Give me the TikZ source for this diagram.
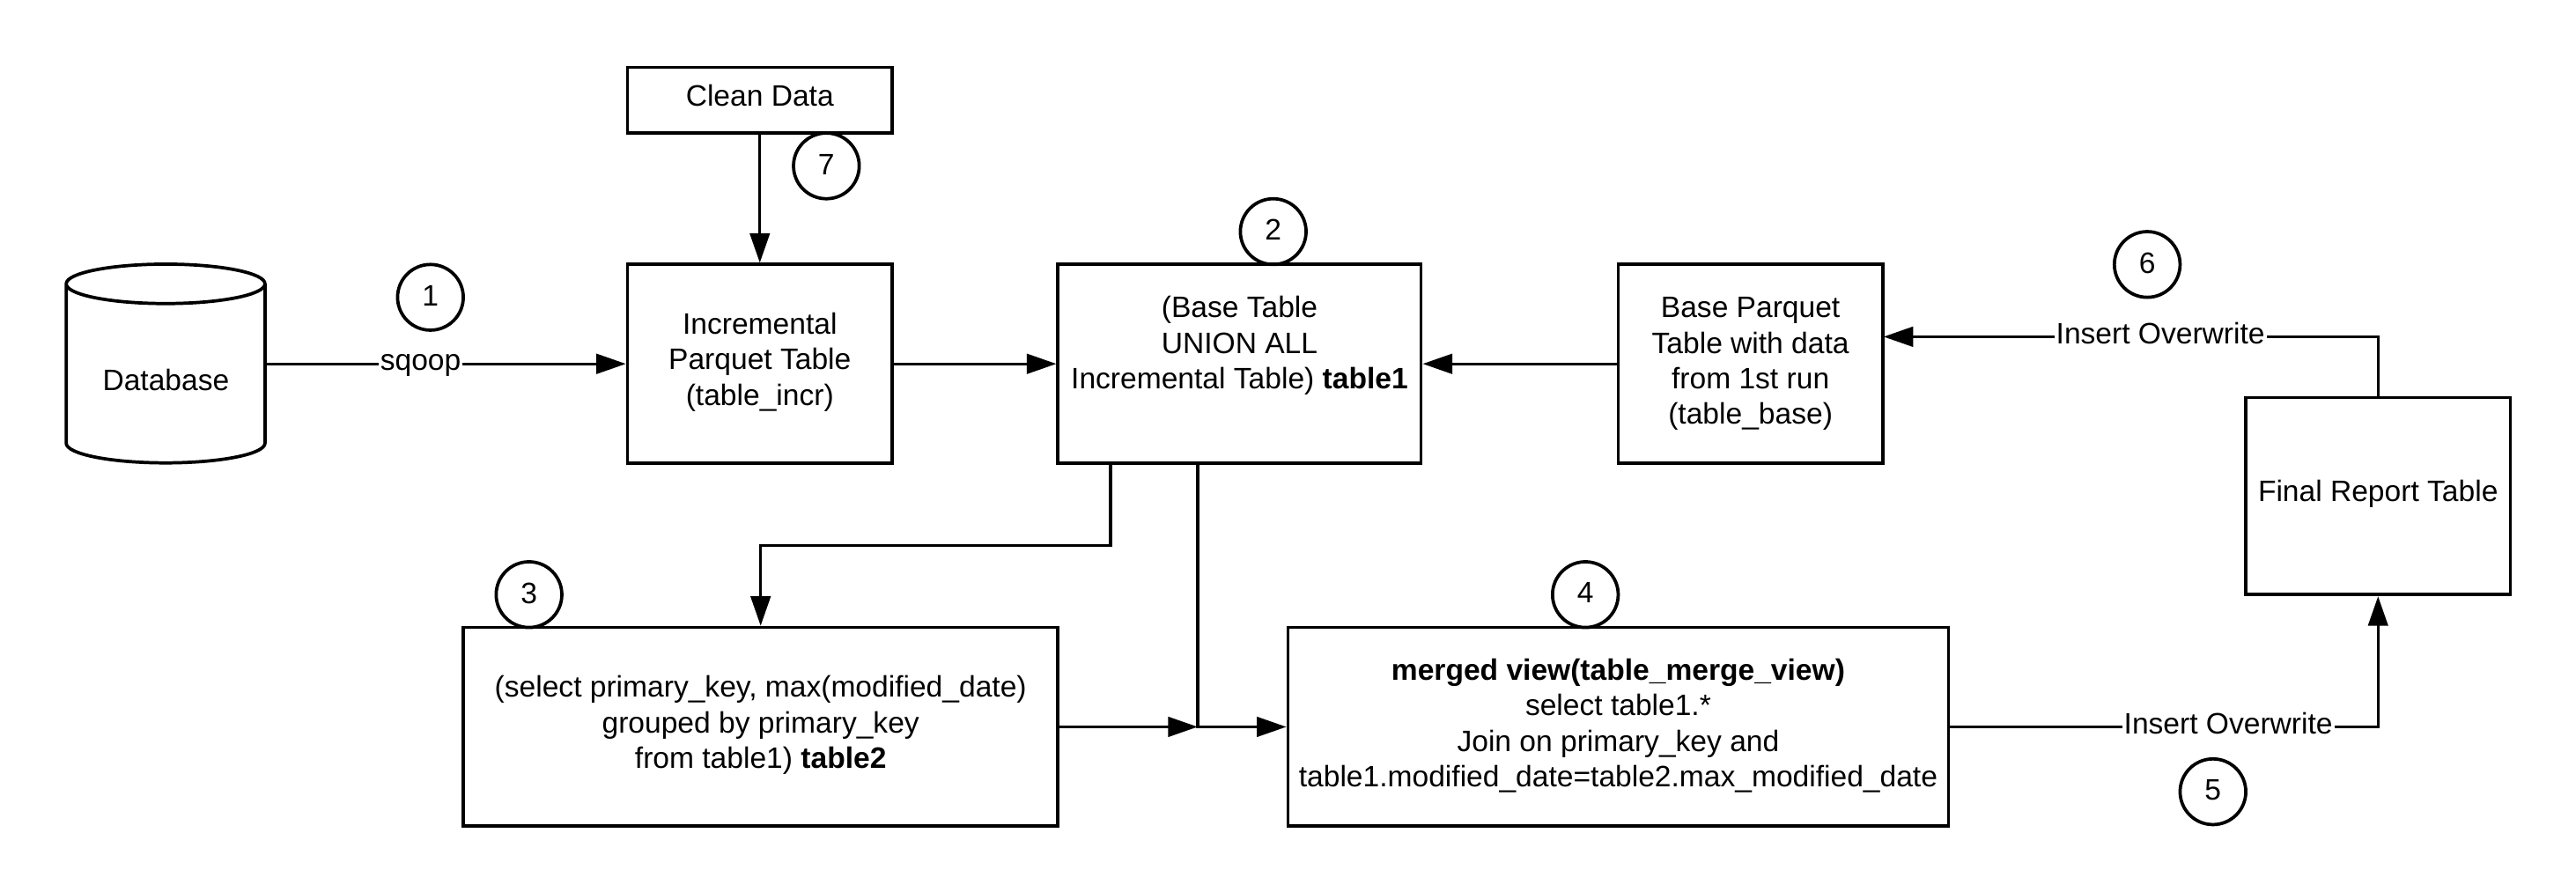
\documentclass[tikz,border=0pt]{standalone}
\usepackage{fontspec}
\setmainfont{Liberation Sans}
\usetikzlibrary{arrows.meta,calc}
\newcommand{\lowdepth}[1]{\rule[-#1]{0pt}{#1}}
\tikzset{
  boxnode/.style={draw=black,line width=2pt,fill=white,align=center,inner sep=0pt,font=\fontsize{18}{21.7}\selectfont},
  numnode/.style={draw=black,line width=2pt,circle,fill=none,minimum size=40pt,inner sep=0pt,font=\fontsize{18}{21.7}\selectfont},
  conn/.style={line width=1.8pt,draw=black},
  arr/.style={conn,-{Triangle[length=18pt,width=12pt]}},
  lbl/.style={fill=white,inner xsep=1pt,inner ysep=1pt,font=\fontsize{18}{21.7}\selectfont},
}
\begin{document}
\begin{tikzpicture}[x=1pt,y=-1pt]
\useasboundingbox (0,0) rectangle (1568,543.03);
% boxes
\node[boxnode,minimum width=161pt,minimum height=40pt] (clean) at (462.5,61) {Clean Data\lowdepth{6pt}};
\node[boxnode,minimum width=161pt,minimum height=121pt] (incr) at (462.5,221.5) {Incremental\\Parquet Table\\(table\_incr)\lowdepth{6pt}};
\node[boxnode,minimum width=221pt,minimum height=121pt] (union) at (754.5,221.5) {(Base Table\\UNION ALL\\Incremental Table) \textbf{table1}\\~\lowdepth{4pt}};
\node[boxnode,minimum width=161pt,minimum height=121pt] (base) at (1065.5,221.5) {Base Parquet\\Table with data\\from 1st run\\(table\_base)};
\node[boxnode,minimum width=161pt,minimum height=120pt] (final) at (1447.5,302) {Final Report Table\lowdepth{6pt}};
\node[boxnode,minimum width=362pt,minimum height=121pt] (tabletwo) at (463,442.5) {(select primary\_key, max(modified\_date)\\grouped by primary\_key\\from table1) \textbf{table2}\lowdepth{6pt}};
\node[boxnode,minimum width=402pt,minimum height=121pt] (merged) at (985,442.5) {\textbf{merged view(table\_merge\_view)}\\select table1.*\\Join on primary\_key and\\table1.modified\_date=table2.max\_modified\_date\lowdepth{5pt}};
% cylinder
\node[minimum width=121pt,minimum height=121pt,inner sep=0pt] (db) at (101,221.5) {};
\draw[line width=2pt,fill=white] (db.north west) ++(0,12) arc[start angle=180,end angle=360,x radius=60.5pt,y radius=12pt]
  arc[start angle=0,end angle=180,x radius=60.5pt,y radius=12pt] -- ++(0,97)
  arc[start angle=180,end angle=360,x radius=60.5pt,y radius=12pt] -- ++(0,-97);
\node[font=\fontsize{18}{21.7}\selectfont,inner sep=0pt] (dbtext) at (101,231.5) {Database};
% connectors
\coordinate (jn) at (729,442.5);
\coordinate (uleft) at (676,282);
\coordinate (uright) at (729,282);
\coordinate (basein) at (1146.5,205);
\draw[arr] (clean.south) -- (incr.north);
\draw[arr] (db.east) -- node[lbl,pos=0.43,yshift=-1pt] (sq) {sqoop} (incr.west);
\draw[arr] (incr.east) -- (union.west);
\draw[arr] (base.west) -- (union.east);
\draw[arr] (uleft) -- ++(0,50) -| (tabletwo.north);
\draw[arr] (uright) |- (merged.west);
\draw[arr] (tabletwo.east) -- (jn);
\draw[arr] (merged.east) -| node[lbl,pos=0.325,yshift=2pt] (io5) {Insert Overwrite} (final.south);
\draw[arr] (final.north) |- node[lbl,pos=0.72,yshift=2pt] (io6) {Insert Overwrite} (basein);
% numbers
\node[numnode] (n1) at (262,181) {1\lowdepth{2pt}};
\node[numnode] (n7) at (503,101) {7\lowdepth{2pt}};
\node[numnode] (n2) at (775,141) {2\lowdepth{2pt}};
\node[numnode] (n6) at (1307,161) {6\lowdepth{2pt}};
\node[numnode] (n3) at (322,362) {3\lowdepth{2pt}};
\node[numnode] (n4) at (965,362) {4\lowdepth{2pt}};
\node[numnode] (n5) at (1347,482) {5\lowdepth{2pt}};
\end{tikzpicture}
\end{document}
